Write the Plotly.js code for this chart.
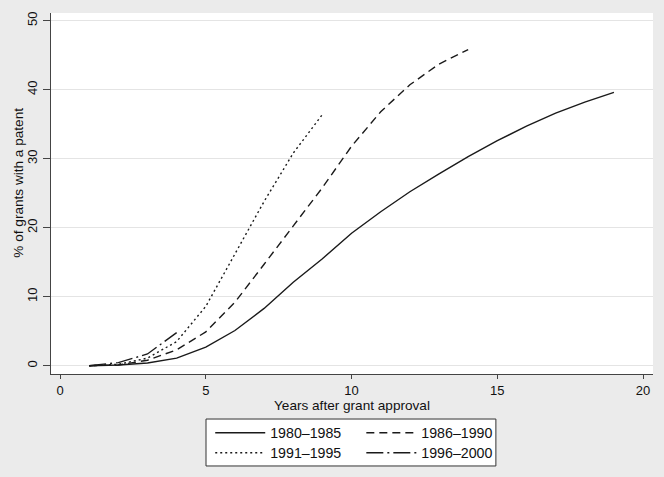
<!DOCTYPE html>
<html>
<head>
<meta charset="utf-8">
<script src="https://cdn.plot.ly/plotly-3.0.1.min.js"></script>
<style>html,body{margin:0;padding:0;background:#ebebeb;}#chart{width:664px;height:477px;}</style>
</head>
<body>
<div id="chart"></div>
<script>
// Data
const seriesNames = ["1980\u20131985", "1986\u20131990", "1991\u20131995", "1996\u20132000"];
const years8085 = [1,2,3,4,5,6,7,8,9,10,11,12,13,14,15,16,17,18,19];
const pct8085   = [0,0.1,0.4,1.1,2.7,5.1,8.3,12.1,15.5,19.2,22.3,25.2,27.8,30.3,32.6,34.7,36.6,38.2,39.6];
const years8690 = [1,2,3,4,5,6,7,8,9,10,11,12,13,14];
const pct8690   = [0,0.1,0.8,2.3,4.9,9.2,14.7,20.2,25.8,31.8,36.8,40.7,43.7,45.8];
const years9195 = [1,2,3,4,5,6,7,8,9];
const pct9195   = [0,0.2,1.1,3.5,8.6,16.1,23.8,30.8,36.4];
const years9600 = [1,2,3,4];
const pct9600   = [0,0.45,1.7,4.8];
const xTicks = [0,5,10,15,20];
const yTicks = [0,10,20,30,40,50];
const xTitle = 'Years after grant approval';
const yTitle = '% of grants with a patent';

const ink = '#1a1a1a';
const fam = 'Liberation Sans, Arial, Helvetica, sans-serif';
const tickFont = {family: fam, size: 13, color: '#111'};
const titleFont = {family: fam, size: 13.6, color: '#111'};
const legFont = {family: fam, size: 14.2, color: '#111'};

const traces = [
  {x: years8085, y: pct8085, name: seriesNames[0], legend: 'legend',
   line: {color: ink, width: 1.4, dash: 'solid'}},
  {x: years8690, y: pct8690, name: seriesNames[1], legend: 'legend2',
   line: {color: ink, width: 1.4, dash: '8px,5px'}},
  {x: years9195, y: pct9195, name: seriesNames[2], legend: 'legend3',
   line: {color: ink, width: 1.4, dash: '2px,3px'}},
  {x: years9600, y: pct9600, name: seriesNames[3], legend: 'legend4',
   line: {color: ink, width: 1.4, dash: '17px,4px,2px,4px'}}
].map(t => Object.assign({type: 'scatter', mode: 'lines', hoverinfo: 'skip'}, t));

const legendCommon = {
  orientation: 'v', xanchor: 'left', yanchor: 'top', yref: 'paper', xref: 'paper',
  bgcolor: 'rgba(0,0,0,0)', borderwidth: 0, font: legFont, traceorder: 'normal',
  itemwidth: 50
};
const legX1 = 0.2645, legX2 = 0.5155, legY1 = -0.1191, legY2 = -0.1745;

const layout = {
  width: 664, height: 477,
  margin: {l: 51, r: 11, t: 13, b: 103, pad: 0, autoexpand: false},
  paper_bgcolor: '#ebebeb',
  plot_bgcolor: '#ffffff',
  font: tickFont,
  showlegend: true,
  xaxis: {
    range: [-0.31, 20.34], tickvals: xTicks, ticktext: xTicks.map(String),
    showgrid: false, zeroline: false,
    showline: true, linecolor: '#444', linewidth: 1,
    ticks: 'outside', ticklen: 4, tickcolor: '#444', tickwidth: 1,
    tickfont: tickFont
  },
  yaxis: {
    range: [-1.2, 51.1], tickvals: yTicks, ticktext: yTicks.map(String),
    showgrid: true, gridcolor: '#e4e4e4', gridwidth: 1.3,
    zeroline: false,
    showline: true, linecolor: '#444', linewidth: 1,
    ticks: 'outside', ticklen: 7, tickcolor: '#444', tickwidth: 1,
    tickangle: -90, tickfont: tickFont, ticklabelstandoff: 1
  },
  annotations: [{
    text: yTitle, textangle: -90, font: titleFont, showarrow: false,
    xref: 'paper', yref: 'paper', x: -0.0532, y: 0.53,
    xanchor: 'center', yanchor: 'middle'
  }, {
    text: xTitle, font: titleFont, showarrow: false,
    xref: 'paper', yref: 'paper', x: 0.5, y: -0.088,
    xanchor: 'center', yanchor: 'middle'
  }],
  legend: Object.assign({x: legX1, y: legY1}, legendCommon),
  legend2: Object.assign({x: legX2, y: legY1}, legendCommon),
  legend3: Object.assign({x: legX1, y: legY2}, legendCommon),
  legend4: Object.assign({x: legX2, y: legY2}, legendCommon),
  shapes: [{
    type: 'rect', xref: 'paper', yref: 'paper',
    x0: 0.2575, x1: 0.739, y0: -0.2548, y1: -0.1247,
    line: {color: '#333', width: 1}, fillcolor: '#ffffff', layer: 'above'
  }]
};

Plotly.newPlot('chart', traces, layout, {staticPlot: true, displayModeBar: false});
</script>
</body>
</html>
